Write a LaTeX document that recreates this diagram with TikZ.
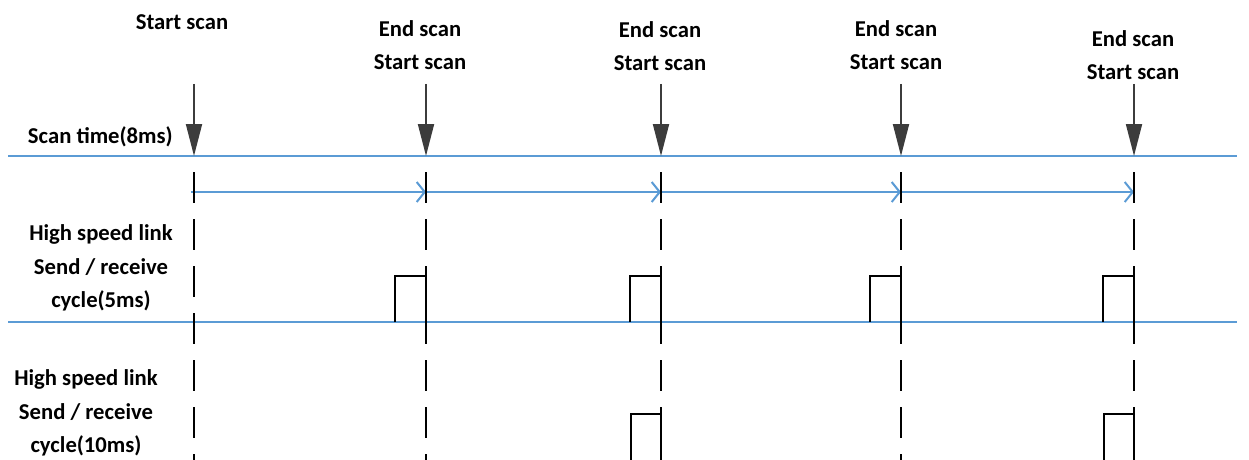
\documentclass[tikz,border=0pt]{standalone}
\usepackage{fontspec}
\setmainfont{Carlito}
\usetikzlibrary{positioning,arrows.meta}
\definecolor{lineblue}{RGB}{91,155,213}
\definecolor{tickgray}{RGB}{60,60,60}

\begin{document}
\begin{tikzpicture}[
  x=0.75pt, y=-0.75pt,
  every node/.style={font=\fontsize{17}{25}\selectfont\bfseries, inner sep=0pt, align=center},
  axis/.style={lineblue, line width=2pt},
  span/.style={lineblue, line width=1.5pt, -{Straight Barb[length=6pt, width=15pt]}},
  marker/.style={tickgray, line width=1.4pt, -{Triangle[length=24pt, width=12pt]}},
  grid/.style={black, line width=1.2pt, dash pattern=on 23.25pt off 12pt},
  pulse/.style={black, line width=1.4pt},
]
  \useasboundingbox (0,0) rectangle (1249,460);
  % tick positions
  \foreach \x [count=\i from 0] in {194,426,661,901,1134} {
    \coordinate (top\i) at (\x,84);
    \coordinate (hit\i) at (\x,156);
    \coordinate (span\i) at (\x,192);
    \coordinate (dash\i) at (\x,172);
    \coordinate (bot\i) at (\x,460);
  }
  \coordinate (axisAL) at (8,156);  \coordinate (axisAR) at (1237,156);
  \coordinate (axisBL) at (8,322);  \coordinate (axisBR) at (1237,322);

  % labels
  \node (start) at (182,22) {Start scan};
  \node (scan1) at (420,45) {End scan\\Start scan};
  \node (scan2) at (660,46) {End scan\\Start scan};
  \node (scan3) at (896,45) {End scan\\Start scan};
  \node (scan4) at (1133,55) {End scan\\Start scan};
  \node[anchor=east] (scantime) at (173,137) {Scan time(8ms)};
  \node (link5) at (101,268) {High speed link\\Send / receive\\cycle(5ms)};
  \node (link10) at (86,413) {High speed link\\Send / receive\\cycle(10ms)};

  % time lines
  \draw[axis] (axisAL) -- (axisAR);
  \draw[axis] (axisBL) -- (axisBR);
  \draw[span] (191,192) -- (span1);
  \draw[span] (span1) -- (span2);
  \draw[span] (span2) -- (span3);
  \draw[span] (span3) -- (span4);

  % scan markers
  \foreach \i in {0,...,4} {
    \draw[marker] (top\i) -- (hit\i);
    \draw[grid] (dash\i) -- (bot\i);
  }

  % send / receive pulses
  \foreach \x in {426,661,901,1134}
    \draw[pulse] ({\x-31},322) |- (\x,276) -- (\x,322);
  \foreach \x in {661,1134}
    \draw[pulse] ({\x-30},460) |- (\x,414) -- (\x,460);
\end{tikzpicture}
\end{document}
